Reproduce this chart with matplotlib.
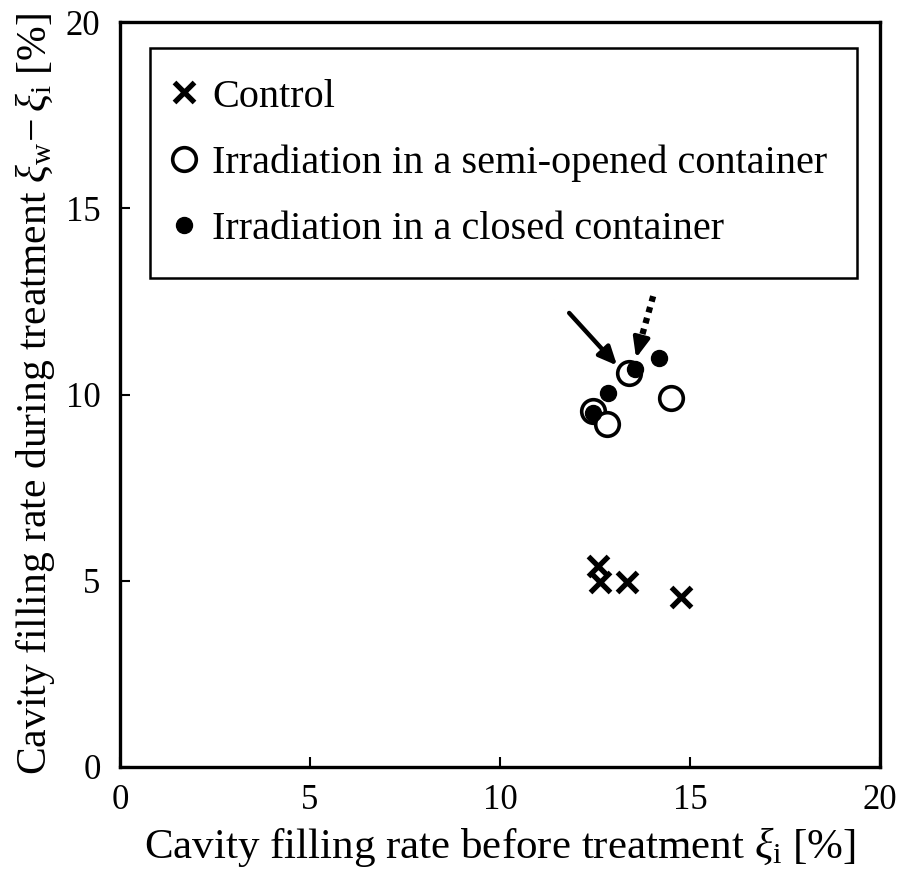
import matplotlib
matplotlib.use("Agg")
import matplotlib.pyplot as plt

plt.rcParams['font.family'] = ['Liberation Serif', 'DejaVu Serif']
plt.rcParams['mathtext.fontset'] = 'custom'
plt.rcParams['mathtext.rm'] = 'Liberation Serif'
plt.rcParams['mathtext.it'] = 'Liberation Serif:italic'

# 読み取ったデータ
ctrl_x = [12.58, 12.63, 13.34, 14.76]
ctrl_y = [5.40, 4.97, 4.97, 4.56]

semi_x = [13.39, 12.45, 12.82, 14.50]
semi_y = [10.58, 9.56, 9.21, 9.91]

closed_x = [13.55, 14.18, 12.84, 12.45]
closed_y = [10.68, 10.98, 10.04, 9.50]

labels = ['Control',
          'Irradiation in a semi-opened container',
          'Irradiation in a closed container']

fig = plt.figure(figsize=(9.04, 8.84), dpi=100)
ax = fig.add_axes([0.1327, 0.1324, 0.8408, 0.8426])

ax.plot(ctrl_x, ctrl_y, 'x', color='black', ms=15, mew=3.8, label=labels[0])
ax.plot(semi_x, semi_y, 'o', mfc='white', mec='black', ms=17, mew=2.6, label=labels[1])
ax.plot(closed_x, closed_y, 'o', color='black', ms=11.5, label=labels[2])

# 矢印
ax.annotate('', xy=(13.08, 10.78), xytext=(11.82, 12.19),
            arrowprops=dict(arrowstyle='-|>,head_length=1.1,head_width=0.5',
                            color='black', lw=3.2, shrinkA=0, shrinkB=0))
ax.plot([14.03, 13.70], [12.64, 11.45], color='black', lw=4.5, ls=(0, (0.9, 0.9)),
        solid_capstyle='butt', dash_capstyle='butt')
ax.annotate('', xy=(13.58, 10.98), xytext=(13.70, 11.45),
            arrowprops=dict(arrowstyle='-|>,head_length=1.2,head_width=0.5',
                            color='black', lw=3.0, shrinkA=0, shrinkB=0))

ax.set_xlim(0, 20)
ax.set_ylim(0, 20)
ax.set_xticks([0, 5, 10, 15, 20])
ax.set_yticks([0, 5, 10, 15, 20])
ax.tick_params(direction='in', length=7, width=1.5, labelsize=25, pad=14)
ax.tick_params(axis='x', pad=12)
for s in ax.spines.values():
    s.set_linewidth(2.4)

ax.set_xlabel(r'Cavity filling rate before treatment $\xi_{\mathrm{i}}$ [%]', fontsize=31, labelpad=6)
ax.set_ylabel(r'Cavity filling rate during treatment $\xi_{\mathrm{w}}\!-\xi_{\mathrm{i}}$ [%]', fontsize=30, labelpad=6)

leg = ax.legend(loc='upper left', bbox_to_anchor=(0.039, 0.965), fontsize=29,
                frameon=True, fancybox=False, edgecolor='black', framealpha=1,
                handlelength=0.2, handletextpad=0.6, borderpad=0.75, labelspacing=0.72,
                borderaxespad=0, markerscale=1.0)
leg.get_frame().set_linewidth(1.8)

fig.savefig('out.png', dpi=100)
